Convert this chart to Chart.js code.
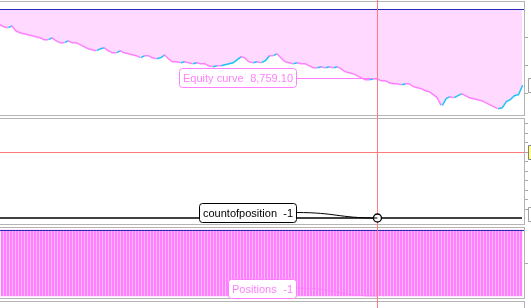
<!DOCTYPE html>
<html>
<head>
<meta charset="utf-8">
<script src="https://cdn.jsdelivr.net/npm/chart.js@4/dist/chart.umd.min.js"></script>
<style>
html, body { margin: 0; padding: 0; background: #fff; overflow: hidden; }
#wrap { position: relative; width: 531px; height: 308px; overflow: hidden; }
.pane { position: absolute; left: -2px; width: 527px; border: 1px solid #b4b4b4; box-sizing: border-box; }
canvas { position: absolute; left: 0; }
</style>
</head>
<body>
<div id="wrap">
  <div class="pane" style="top:1px;height:115px"></div>
  <div class="pane" style="top:118px;height:107px"></div>
  <div class="pane" style="top:227px;height:72px"></div>
  <div class="pane" style="top:301px;height:20px"></div>
  <canvas id="equity-chart" width="531" height="117" style="top:0"></canvas>
  <canvas id="count-chart" width="531" height="109" style="top:117px"></canvas>
  <canvas id="positions-chart" width="531" height="82" style="top:226px"></canvas>
</div>
<script>
// equity per bar
const equity = [
  9731, 9695, 9677, 9713, 9624, 9588, 9570, 9552, 9534, 9516,
  9498, 9462, 9462, 9498, 9444, 9409, 9409, 9444, 9409, 9409,
  9373, 9337, 9301, 9283, 9265, 9301, 9319, 9265, 9229, 9229,
  9265, 9229, 9212, 9194, 9176, 9140, 9176, 9176, 9140, 9122,
  9140, 9194, 9122, 9068, 9068, 9050, 9068, 9050, 9032, 9050,
  9032, 9032, 8996, 8979, 8996, 8996, 9014, 9032, 9050, 9104,
  9158, 9140, 9068, 9050, 9068, 9050, 9086, 9176, 9176, 9212,
  9140, 9068, 9050, 9032, 9050, 9032, 9032, 8996, 8961, 8961,
  8979, 8961, 8979, 8961, 8979, 8943, 8889, 8871, 8853, 8817,
  8781, 8746, 8746, 8763, 8759.10, 8728, 8728, 8692, 8674, 8674,
  8656, 8674, 8674, 8620, 8602, 8584, 8548, 8531, 8477, 8423,
  8280, 8405, 8441, 8423, 8459, 8495, 8459, 8423, 8405, 8387,
  8369, 8333, 8298, 8262, 8226, 8244, 8351, 8387, 8459, 8477,
  8638
];
const countOfPosition = [
  -1,-1,-1,-1,-1,-1,-1,-1,-1,-1, -1,-1,-1,-1,-1,-1,-1,-1,-1,-1,
  -1,-1,-1,-1,-1,-1,-1,-1,-1,-1, -1,-1,-1,-1,-1,-1,-1,-1,-1,-1,
  -1,-1,-1,-1,-1,-1,-1,-1,-1,-1, -1,-1,-1,-1,-1,-1,-1,-1,-1,-1,
  -1,-1,-1,-1,-1,-1,-1,-1,-1,-1, -1,-1,-1,-1,-1,-1,-1,-1,-1,-1,
  -1,-1,-1,-1,-1,-1,-1,-1,-1,-1, -1,-1,-1,-1,-1,-1,-1,-1,-1,-1,
  -1,-1,-1,-1,-1,-1,-1,-1,-1,-1, -1,-1,-1,-1,-1,-1,-1,-1,-1,-1,
  -1,-1,-1,-1,-1,-1,-1,-1,-1,-1, -1
];
const positions = [
  -1,-1,-1,-1,-1,-1,-1,-1,-1,-1, -1,-1,-1,-1,-1,-1,-1,-1,-1,-1,
  -1,-1,-1,-1,-1,-1,-1,-1,-1,-1, -1,-1,-1,-1,-1,-1,-1,-1,-1,-1,
  -1,-1,-1,-1,-1,-1,-1,-1,-1,-1, -1,-1,-1,-1,-1,-1,-1,-1,-1,-1,
  -1,-1,-1,-1,-1,-1,-1,-1,-1,-1, -1,-1,-1,-1,-1,-1,-1,-1,-1,-1,
  -1,-1,-1,-1,-1,-1,-1,-1,-1,-1, -1,-1,-1,-1,-1,-1,-1,-1,-1,-1,
  -1,-1,-1,-1,-1,-1,-1,-1,-1,-1, -1,-1,-1,-1,-1,-1,-1,-1,-1,-1,
  -1,-1,-1,-1,-1,-1,-1,-1,-1,-1, -1,-1,-1,-1,-1,-1,-1,-1,-1,-1,
  -1,-1,-1,-1,-1,-1,-1,-1,-1,-1, -1,-1,-1,-1,-1,-1,-1,-1,-1,-1,
  -1,-1,-1,-1,-1,-1,-1,-1,-1,-1, -1,-1,-1,-1
];
const startingEquity = 10000;
const equityTicks = [8500, 9000, 9500];
const countTicks = [0, 1, 2, 3, 4, 5, 6, 7, 8, 9];
const positionTicks = [-0.5];
const cursorBar = 94;          // crosshair bar in equity / count panes
const cursorPositionBar = 125; // same moment in the positions pane
const cursorCount = 6;

const bars = equity.map((v, i) => i + 1);
const positionBars = positions.map((v, i) => i + 1);

const PINK = '#ff80ff';
const CYAN = '#1ec3f5';
const CROSS = '#ff7a7a';
const FRAME_RIGHT = 524;

Chart.defaults.font.family = 'Liberation Sans';
Chart.defaults.font.size = 11;

function drawCross(chart, opts) {
    const ctx = chart.ctx;
    ctx.save();
    ctx.strokeStyle = CROSS;
    ctx.lineWidth = 1;
    const x = Math.round(chart.scales.x.getPixelForValue(opts.cursor));
    ctx.fillStyle = CROSS;
    ctx.fillRect(x, 0, 1, chart.height);
    if (opts.crossY !== undefined) {
        const y = Math.round(chart.scales.y.getPixelForValue(opts.crossY)) + 0.5;
        ctx.beginPath();
        ctx.moveTo(0, y);
        ctx.lineTo(FRAME_RIGHT + 4, y);
        ctx.stroke();
    }
    ctx.restore();
}

function drawTip(chart, tip) {
    const ctx = chart.ctx;
    const pt = chart.getDatasetMeta(tip.dataset || 0).data[tip.index];
    const px = pt.x, py = pt.y;
    ctx.save();
    ctx.font = '11px "Liberation Sans"';
    const w = ctx.measureText(tip.label).width + ctx.measureText(tip.value).width + 14;
    const h = 19;
    const right = Math.round(px) - 81 + 0.5;
    const left = Math.round(right - w) + 0.5;
    const cy = py + tip.dy;
    const top = Math.round(cy - h / 2) + 0.5;
    // connector
    ctx.strokeStyle = tip.color;
    ctx.lineWidth = 1;
    ctx.beginPath();
    if (tip.curve) {
        ctx.moveTo(right, cy);
        ctx.bezierCurveTo(right + 40, cy, px - 40, py, px, py);
    } else {
        ctx.moveTo(right, Math.round(py) + 0.5);
        ctx.lineTo(px, Math.round(py) + 0.5);
    }
    ctx.stroke();
    // box
    ctx.fillStyle = '#fff';
    ctx.beginPath();
    ctx.roundRect(left, top, right - left, h, 3);
    ctx.fill();
    ctx.stroke();
    ctx.fillStyle = tip.color;
    ctx.textBaseline = 'middle';
    ctx.textAlign = 'left';
    ctx.fillText(tip.label, left + 3.5, top + h / 2 + 0.5);
    ctx.textAlign = 'right';
    ctx.fillText(tip.value, right - 3.5, top + h / 2 + 0.5);
    ctx.restore();
}

const paneDecor = {
    id: 'paneDecor',
    beforeDatasetsDraw(chart, args, opts) {
        if (!opts.crossOnTop) drawCross(chart, opts);
    },
    afterDatasetsDraw(chart, args, opts) {
        const ctx = chart.ctx;
        const y = chart.scales.y;
        if (opts.baseline !== undefined) {
            const by = Math.round(y.getPixelForValue(opts.baseline)) + 0.5;
            ctx.save();
            ctx.strokeStyle = '#2a2ab8';
            ctx.lineWidth = 1;
            ctx.beginPath();
            ctx.moveTo(0, by);
            ctx.lineTo(FRAME_RIGHT, by);
            ctx.stroke();
            ctx.restore();
        }
        if (opts.crossOnTop) drawCross(chart, opts);
    },
    afterDraw(chart, args, opts) {
        const ctx = chart.ctx;
        const y = chart.scales.y;
        ctx.save();
        ctx.strokeStyle = '#a8a8a8';
        ctx.lineWidth = 1;
        (opts.ticks || []).forEach(v => {
            const ty = Math.round(y.getPixelForValue(v)) + 0.5;
            ctx.beginPath();
            ctx.moveTo(FRAME_RIGHT + 1, ty);
            ctx.lineTo(FRAME_RIGHT + 4, ty);
            ctx.stroke();
        });
        (opts.sideBoxes || []).forEach(b => {
            const by = y.getPixelForValue(b.value);
            ctx.fillStyle = b.fill;
            ctx.strokeStyle = b.stroke;
            ctx.beginPath();
            ctx.rect(528.5, Math.round(by - 7) + 0.5, 12, 14);
            ctx.fill();
            ctx.stroke();
        });
        ctx.restore();
        if (opts.tip) drawTip(chart, opts.tip);
    }
};

const baseOptions = (yMin, yMax, padding) => ({
    responsive: false,
    animation: false,
    devicePixelRatio: 1,
    layout: { padding: padding },
    plugins: { legend: { display: false }, tooltip: { enabled: false } },
    scales: {
        x: { display: false },
        y: { display: false, min: yMin, max: yMax }
    }
});

// equity pane
const equityOptions = baseOptions(8100, 10000, { top: 9, bottom: 2, left: 0, right: 9 });
equityOptions.plugins.paneDecor = {
    cursor: cursorBar,
    crossOnTop: true,
    baseline: startingEquity,
    ticks: equityTicks,
    sideBoxes: [{ value: equity[equity.length - 1], fill: '#fff', stroke: '#a0a0a0' }],
    tip: {
        dataset: 1, index: cursorBar, label: 'Equity curve',
        value: equity[cursorBar].toLocaleString('en-US', { minimumFractionDigits: 2 }),
        color: PINK, dy: -1, curve: false
    }
};
new Chart(document.getElementById('equity-chart').getContext('2d'), {
    type: 'line',
    data: {
        labels: bars,
        datasets: [{
            // drawdown area up to the starting equity
            label: 'fill',
            data: equity,
            borderWidth: 0,
            pointRadius: 0,
            tension: 0,
            fill: { value: startingEquity },
            backgroundColor: '#ffd9ff'
        }, {
            label: 'Equity curve',
            data: equity,
            borderColor: PINK,
            borderWidth: 3,
            pointRadius: 0,
            tension: 0,
            fill: false,
            segment: {
                borderColor: c => c.p1.parsed.y > c.p0.parsed.y ? CYAN : PINK
            }
        }]
    },
    options: equityOptions,
    plugins: [paneDecor]
});

// countofposition pane
const countOptions = baseOptions(-1.63, 9.53, { top: 1, bottom: 2, left: 0, right: 9 });
countOptions.plugins.paneDecor = {
    cursor: cursorBar,
    crossOnTop: false,
    crossY: cursorCount,
    ticks: countTicks,
    sideBoxes: [
        { value: cursorCount, fill: '#ffff80', stroke: '#808080' },
        { value: -0.6, fill: '#fff', stroke: '#a0a0a0' }
    ],
    tip: { index: cursorBar, label: 'countofposition', value: '-1', color: '#000', dy: -5.5, curve: true }
};
new Chart(document.getElementById('count-chart').getContext('2d'), {
    type: 'line',
    data: {
        labels: bars,
        datasets: [{
            label: 'countofposition',
            data: countOfPosition,
            borderColor: '#000',
            borderWidth: 1.5,
            tension: 0,
            pointRadius: bars.map((b, i) => i === cursorBar ? 4 : 0),
            pointBackgroundColor: '#fff',
            pointBorderColor: '#000',
            pointBorderWidth: 1.3
        }]
    },
    options: countOptions,
    plugins: [paneDecor]
});

// positions pane
const posOptions = baseOptions(-1.0303, 0.0455, { top: 1, bottom: 10, left: 0.5, right: 8.5 });
posOptions.plugins.paneDecor = {
    cursor: cursorPositionBar,
    crossOnTop: true,
    baseline: 0,
    ticks: positionTicks,
    tip: { index: cursorPositionBar, label: 'Positions', value: '-1', color: PINK, dy: -8, curve: true }
};
new Chart(document.getElementById('positions-chart').getContext('2d'), {
    type: 'bar',
    data: {
        labels: positionBars,
        datasets: [{
            label: 'Positions',
            data: positions,
            backgroundColor: PINK,
            barThickness: 2,
            borderWidth: 0
        }]
    },
    options: posOptions,
    plugins: [paneDecor]
});
</script>
</body>
</html>
